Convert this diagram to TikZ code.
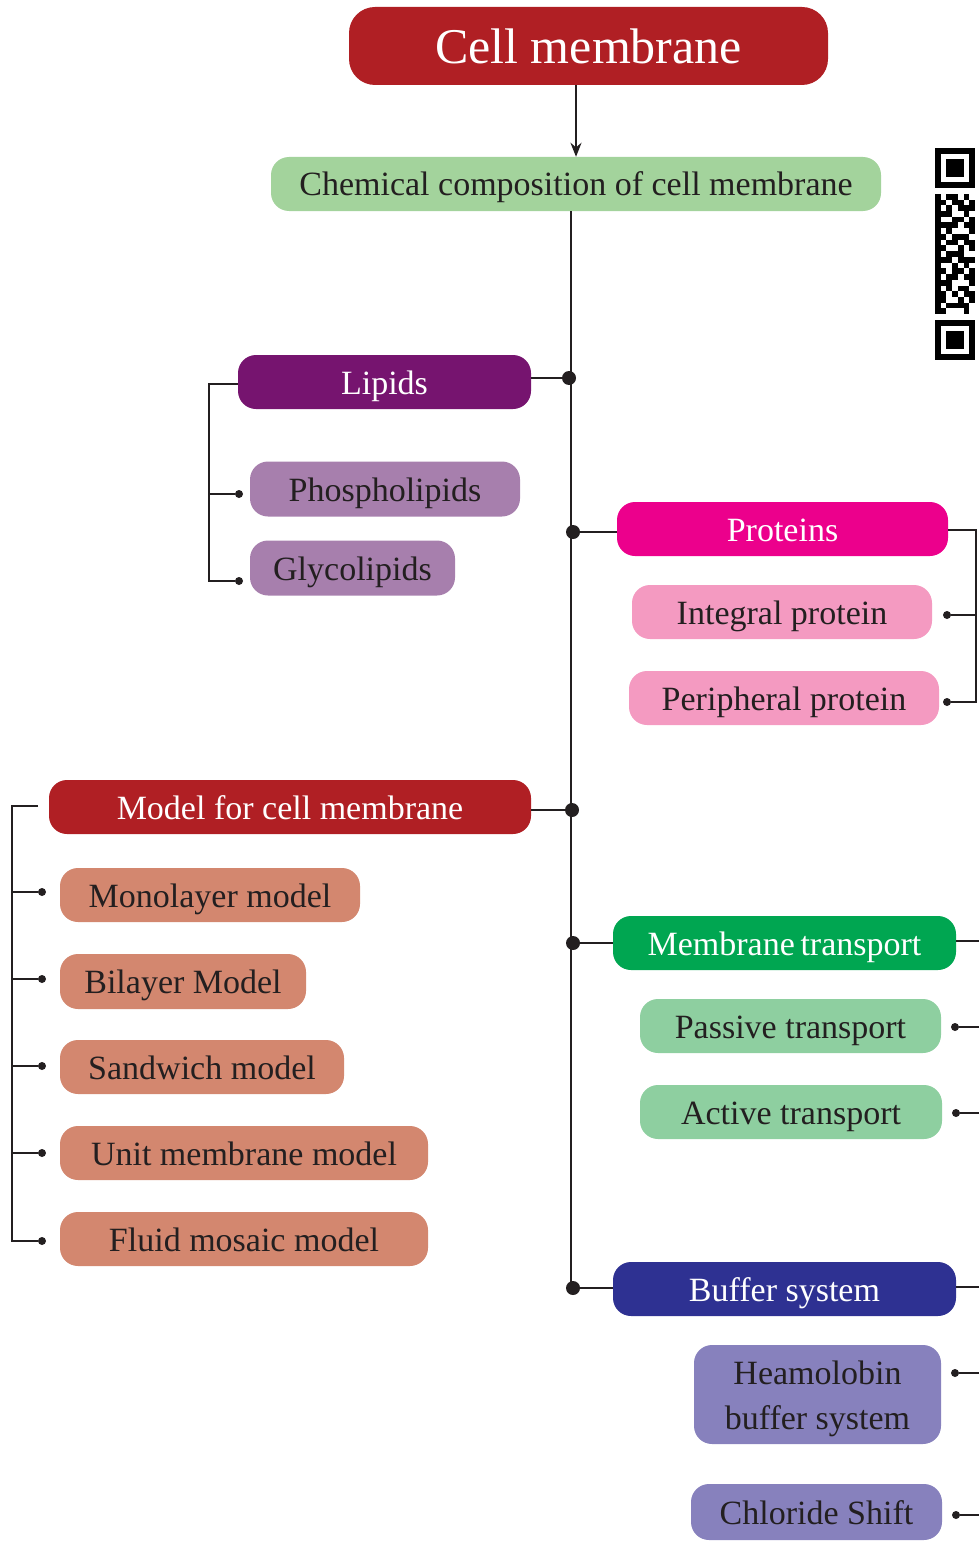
\documentclass[tikz,border=0pt]{standalone}
\usepackage{fontspec}
\setmainfont{Liberation Serif}
\usetikzlibrary{arrows.meta}
\definecolor{titlered}{HTML}{B01F24}
\definecolor{chemgreen}{HTML}{A3D39C}
\definecolor{lippurple}{HTML}{76146F}
\definecolor{lipsub}{HTML}{A77FAD}
\definecolor{protmag}{HTML}{EC008C}
\definecolor{protsub}{HTML}{F49AC1}
\definecolor{modsub}{HTML}{D3876F}
\definecolor{trgreen}{HTML}{00A651}
\definecolor{trsub}{HTML}{8ECFA0}
\definecolor{bufblue}{HTML}{2E3192}
\definecolor{bufsub}{HTML}{8781BD}
\definecolor{ink}{HTML}{231F20}
\tikzset{
  box/.style={rounded corners=18pt, inner sep=0pt, align=center, font=\fontsize{34}{42}\selectfont, text=ink, text height=24pt, text depth=0pt},
  wbox/.style={box, text=white},
  link/.style={line width=2.5pt, draw=ink},
  blink/.style={line width=2pt, draw=ink},
  bigdot/.style={circle, fill=ink, inner sep=0pt, minimum size=14pt},
  smalldot/.style={circle, fill=ink, inner sep=0pt, minimum size=8pt},
}
\begin{document}
\begin{tikzpicture}[x=1pt,y=-1pt]
\useasboundingbox (0,0) rectangle (979,1541);
% title
\node[wbox, rounded corners=26pt, fill=titlered, minimum width=479pt, minimum height=78pt, font=\fontsize{50}{58}\selectfont, text height=36pt] (title) at (588.5,46) {Cell membrane};
\node[box, fill=chemgreen, minimum width=610pt, minimum height=54pt] (chem) at (576,184) {Chemical composition of cell membrane};
\draw[link, -{Stealth[length=14pt,width=11pt]}] (title.south -| 576,0) -- (chem.north -| 576,0);
% main spine
\coordinate (sptop) at (571,211);
\coordinate (spbot) at (571,1288);
\draw[link] (sptop) -- (spbot);
% lipids
\node[wbox, fill=lippurple, minimum width=293pt, minimum height=54pt] (lipids) at (384.5,382) {Lipids};
\node[box, fill=lipsub, minimum width=270pt, minimum height=55pt] (phos) at (385,489) {Phospholipids};
\node[box, fill=lipsub, minimum width=205pt, minimum height=55pt] (glyco) at (352.5,568) {Glycolipids};
\node[bigdot] (dlip) at (569,378) {};
\draw[link] (lipids.east |- dlip) -- (dlip);
\node[smalldot] (dphos) at (239,494) {};
\node[smalldot] (dglyco) at (239,581) {};
\coordinate (lipL) at (238,384);
\draw[blink] (lipL) -- (209,384) |- (dglyco);
\draw[blink] (209,494) -- (dphos);
% proteins
\node[wbox, fill=protmag, minimum width=331pt, minimum height=54pt] (prot) at (782.5,529) {Proteins};
\node[box, fill=protsub, minimum width=300pt, minimum height=54pt] (integ) at (782,612) {Integral protein};
\node[box, fill=protsub, minimum width=310pt, minimum height=54pt] (peri) at (784,698) {Peripheral protein};
\node[bigdot] (dprot) at (573,532) {};
\draw[link] (dprot) -- (prot.west |- dprot);
\node[smalldot] (dinteg) at (947,615) {};
\node[smalldot] (dperi) at (947,702) {};
\coordinate (protR) at (948,530);
\draw[blink] (protR) -- (976,530) |- (dperi);
\draw[blink] (976,615) -- (dinteg);
% model
\node[wbox, fill=titlered, minimum width=482pt, minimum height=54pt] (model) at (290,807) {Model for cell membrane};
\node[bigdot] (dmodel) at (572,810) {};
\draw[link] (model.east |- dmodel) -- (dmodel);
\node[box, fill=modsub, minimum width=300pt, minimum height=54pt] (mono) at (210,895) {Monolayer model};
\node[box, fill=modsub, minimum width=246pt, minimum height=55pt] (bil) at (183,981.5) {Bilayer Model};
\node[box, fill=modsub, minimum width=284pt, minimum height=54pt] (sand) at (202,1067) {Sandwich model};
\node[box, fill=modsub, minimum width=368pt, minimum height=54pt] (unit) at (244,1153) {Unit membrane model};
\node[box, fill=modsub, minimum width=368pt, minimum height=54pt] (fluid) at (244,1239) {Fluid mosaic model};
\foreach \n/\y in {mono/892, bil/979, sand/1066, unit/1153, fluid/1241} {
  \node[smalldot] (d\n) at (42,\y) {};
}
\coordinate (modL) at (38,806);
\draw[blink] (modL) -- (12,806) |- (dfluid);
\foreach \n/\y in {mono/892, bil/979, sand/1066, unit/1153} {
  \draw[blink] (12,\y) -- (d\n);
}
% membrane transport
\node[wbox, fill=trgreen, minimum width=343pt, minimum height=54pt] (trans) at (784.5,943) {Membrane\,transport};
\node[bigdot] (dtrans) at (573,943) {};
\draw[link] (dtrans) -- (trans.west |- dtrans);
\coordinate (transR) at (979,941);
\draw[link] (trans.east |- transR) -- (transR);
\node[box, fill=trsub, minimum width=301pt, minimum height=54pt] (pass) at (790.5,1026) {Passive transport};
\node[box, fill=trsub, minimum width=302pt, minimum height=54pt] (act) at (791,1112) {Active transport};
\node[smalldot] (dpass) at (955,1027) {};
\node[smalldot] (dact) at (956,1113) {};
\coordinate (passR) at (979,1027);
\coordinate (actR) at (979,1113);
\draw[blink] (dpass) -- (passR);
\draw[blink] (dact) -- (actR);
% buffer
\node[wbox, fill=bufblue, minimum width=343pt, minimum height=54pt] (buf) at (784.5,1289) {Buffer system};
\node[bigdot] (dbuf) at (573,1288) {};
\draw[link] (dbuf) -- (buf.west |- dbuf);
\coordinate (bufR) at (979,1287);
\draw[link] (buf.east |- bufR) -- (bufR);
\node[box, fill=bufsub, minimum width=247pt, minimum height=99pt] (haem) at (817.5,1394.5) {};
\node[align=center, inner sep=0pt, font=\fontsize{34}{45}\selectfont, text=ink] (haemtxt) at ([yshift=-4pt]haem.center) {Heamolobin\\buffer system};
\node[box, fill=bufsub, minimum width=251pt, minimum height=56pt] (chl) at (816.5,1512) {Chloride Shift};
\node[smalldot] (dhaem) at (955,1373) {};
\node[smalldot] (dchl) at (956,1515) {};
\coordinate (haemR) at (979,1373);
\coordinate (chlR) at (979,1515);
\draw[blink] (dhaem) -- (haemR);
\draw[blink] (dchl) -- (chlR);
% QR code fragment
\def\m{5.73}
\foreach \yy in {148, 320} {
  \fill[black] (935,\yy) rectangle ++(40,40);
  \fill[white] (935+\m,\yy+\m) rectangle ++(40-2*\m,40-2*\m);
  \fill[black] (935+2*\m,\yy+2*\m) rectangle ++(40-4*\m,40-4*\m);
}
\foreach \r/\cols in {8/{0,2,3,5}, 9/{0,1,3,4,6}, 10/{0,2,4,5,6}, 11/{0,1,2,5}, 12/{0,3,4,6}, 13/{0,1,2,3,5,6}, 14/{0,2,6}, 15/{0,1,3,4,5}, 16/{0,2,3,5,6}, 17/{0,1,4,6}, 18/{0,2,3,4}, 19/{0,1,2,4,5,6}, 20/{0,3,5}, 21/{0,1,3,4,6}, 22/{0,2,3,5,6}, 23/{0,1,2,6}, 24/{0,2,4,5}, 25/{0,1,3,5,6}, 26/{0,1,4,6}, 27/{0,2,3,4,5}, 28/{0,1,5}} {
  \foreach \c in \cols {
    \fill[black] (935+\c*\m,148+\r*\m) rectangle ++(\m,\m);
  }
}
\end{tikzpicture}
\end{document}
